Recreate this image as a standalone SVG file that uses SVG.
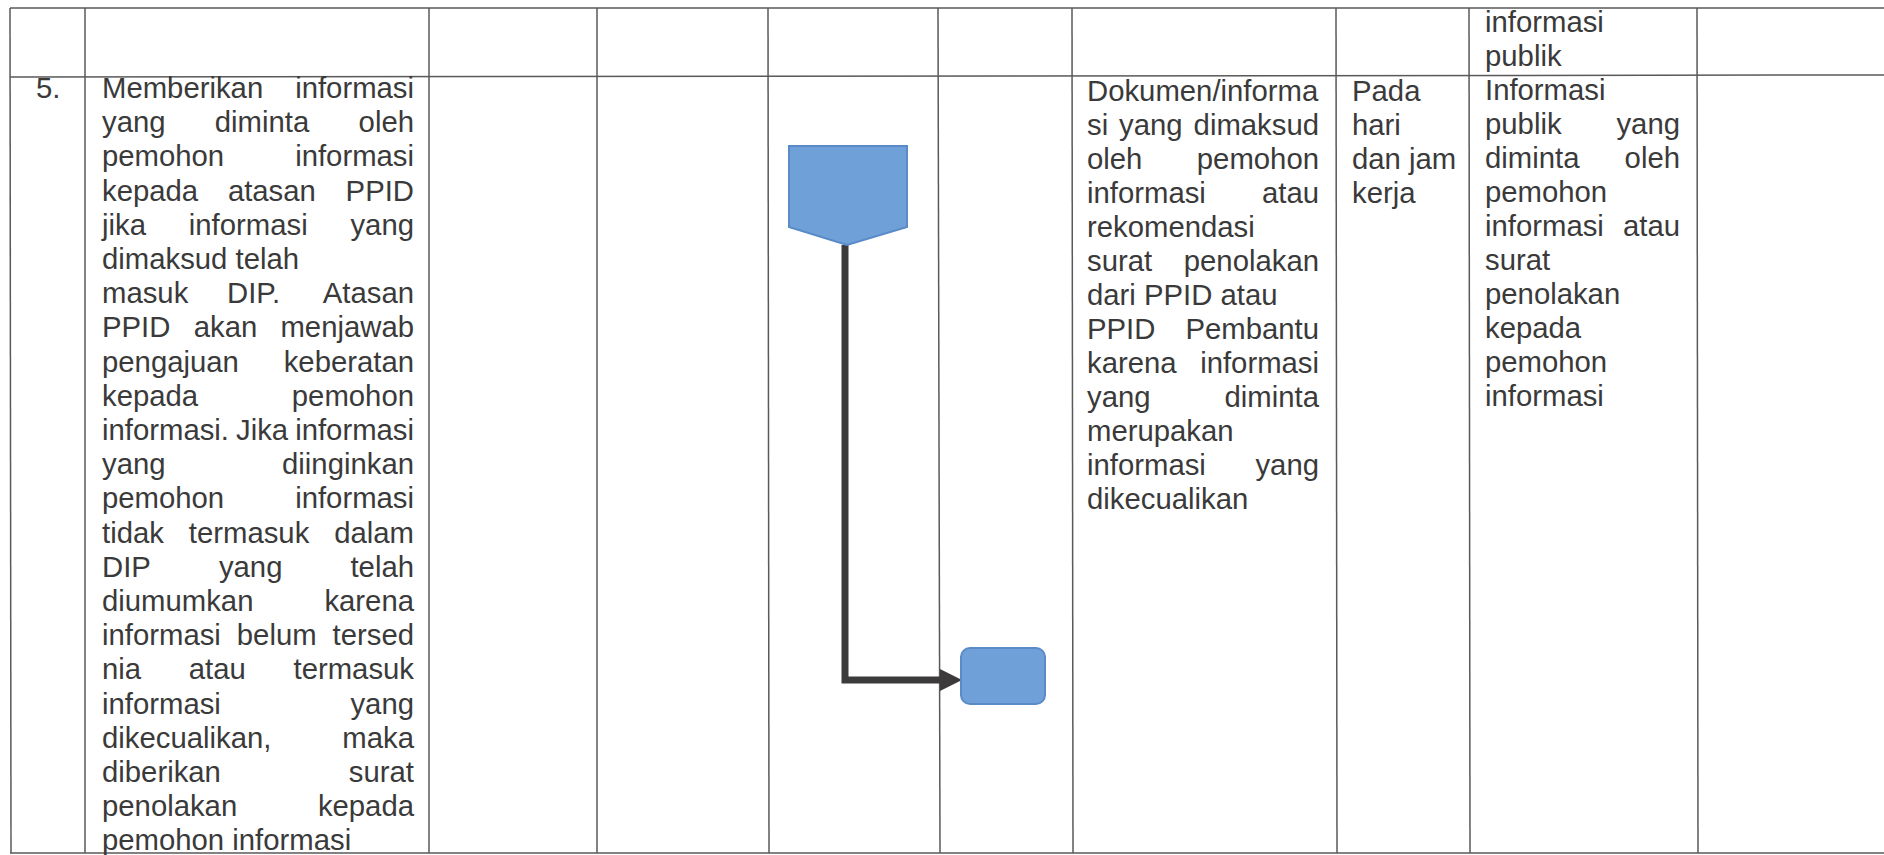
<svg xmlns="http://www.w3.org/2000/svg" width="1884" height="855" viewBox="0 0 1884 855">
<defs>
<style>
.grid{stroke:#595959;stroke-width:1.5;fill:none}
.t{font-family:"Liberation Sans",Arial,sans-serif;font-size:29.3px;fill:#3a3a3a}
.e{text-anchor:end}
.shape{fill:#6fa0d8;stroke:#5a8bc8;stroke-width:2}
.conn{stroke:#3d3a3c;stroke-width:7;fill:none;stroke-linejoin:miter}
</style>
<marker id="arrow" markerUnits="userSpaceOnUse" markerWidth="24" markerHeight="24" refX="0" refY="11" orient="auto" viewBox="0 0 24 22">
<path d="M0,0 L22,11 L0,22 Z" fill="#3d3a3c"/>
</marker>
</defs>
<rect width="1884" height="855" fill="#ffffff"/>
<g id="table">
<line class="grid" x1="10" y1="8" x2="1884" y2="8"/>
<line class="grid" x1="10" y1="77" x2="1884" y2="75"/>
<line class="grid" x1="10" y1="853" x2="1884" y2="853"/>
<line class="grid" x1="10" y1="8" x2="11" y2="853"/>
<line class="grid" x1="85" y1="8" x2="85" y2="853"/>
<line class="grid" x1="429" y1="8" x2="429" y2="853"/>
<line class="grid" x1="597" y1="8" x2="597" y2="853"/>
<line class="grid" x1="768" y1="8" x2="769" y2="853"/>
<line class="grid" x1="938" y1="8" x2="940" y2="853"/>
<line class="grid" x1="1072" y1="8" x2="1073" y2="853"/>
<line class="grid" x1="1336" y1="8" x2="1337" y2="853"/>
<line class="grid" x1="1469" y1="8" x2="1470" y2="853"/>
<line class="grid" x1="1697" y1="8" x2="1698" y2="853"/>
</g>
<g id="col-no">
<text class="t" x="36" y="98">5.</text>
</g>
<g id="col-kegiatan" class="t">
<text x="102" y="98">Memberikan</text><text class="e" x="414" y="98">informasi</text>
<text x="102" y="132.2">yang</text><text x="214.8" y="132.2">diminta</text><text class="e" x="414" y="132.2">oleh</text>
<text x="102" y="166.4">pemohon</text><text class="e" x="414" y="166.4">informasi</text>
<text x="102" y="200.6">kepada</text><text x="227.9" y="200.6">atasan</text><text class="e" x="414" y="200.6">PPID</text>
<text x="102" y="234.8">jika</text><text x="188.8" y="234.8">informasi</text><text class="e" x="414" y="234.8">yang</text>
<text x="102" y="269">dimaksud telah</text>
<text x="102" y="303.2">masuk</text><text x="227" y="303.2">DIP.</text><text class="e" x="414" y="303.2">Atasan</text>
<text x="102" y="337.4">PPID</text><text x="193.7" y="337.4">akan</text><text class="e" x="414" y="337.4">menjawab</text>
<text x="102" y="371.6">pengajuan</text><text class="e" x="414" y="371.6">keberatan</text>
<text x="102" y="405.8">kepada</text><text class="e" x="414" y="405.8">pemohon</text>
<text x="102" y="440">informasi.</text><text x="236" y="440">Jika</text><text class="e" x="414" y="440">informasi</text>
<text x="102" y="474.2">yang</text><text class="e" x="414" y="474.2">diinginkan</text>
<text x="102" y="508.4">pemohon</text><text class="e" x="414" y="508.4">informasi</text>
<text x="102" y="542.6">tidak</text><text x="188.8" y="542.6">termasuk</text><text class="e" x="414" y="542.6">dalam</text>
<text x="102" y="576.8">DIP</text><text x="218.9" y="576.8">yang</text><text class="e" x="414" y="576.8">telah</text>
<text x="102" y="611">diumumkan</text><text class="e" x="414" y="611">karena</text>
<text x="102" y="645.2">informasi</text><text x="236.8" y="645.2">belum</text><text class="e" x="414" y="645.2">tersed</text>
<text x="102" y="679.4">nia</text><text x="188.8" y="679.4">atau</text><text class="e" x="414" y="679.4">termasuk</text>
<text x="102" y="713.6">informasi</text><text class="e" x="414" y="713.6">yang</text>
<text x="102" y="747.8">dikecualikan,</text><text class="e" x="414" y="747.8">maka</text>
<text x="102" y="782">diberikan</text><text class="e" x="414" y="782">surat</text>
<text x="102" y="816.2">penolakan</text><text class="e" x="414" y="816.2">kepada</text>
<text x="102" y="850.4">pemohon informasi</text>
</g>
<g id="col-dokumen" class="t">
<text x="1087" y="101">Dokumen/informa</text>
<text x="1087" y="135">si</text><text x="1119.1" y="135">yang</text><text class="e" x="1319" y="135">dimaksud</text>
<text x="1087" y="169">oleh</text><text class="e" x="1319" y="169">pemohon</text>
<text x="1087" y="203">informasi</text><text class="e" x="1319" y="203">atau</text>
<text x="1087" y="237">rekomendasi</text>
<text x="1087" y="271">surat</text><text class="e" x="1319" y="271">penolakan</text>
<text x="1087" y="305">dari PPID atau</text>
<text x="1087" y="339">PPID</text><text class="e" x="1319" y="339">Pembantu</text>
<text x="1087" y="373">karena</text><text class="e" x="1319" y="373">informasi</text>
<text x="1087" y="407">yang</text><text class="e" x="1319" y="407">diminta</text>
<text x="1087" y="441">merupakan</text>
<text x="1087" y="475">informasi</text><text class="e" x="1319" y="475">yang</text>
<text x="1087" y="509">dikecualikan</text>
</g>
<g id="col-waktu" class="t">
<text x="1352" y="101">Pada</text>
<text x="1352" y="135">hari</text>
<text x="1352" y="169">dan jam</text>
<text x="1352" y="203">kerja</text>
</g>
<g id="col-output" class="t">
<text x="1485" y="32">informasi</text>
<text x="1485" y="66">publik</text>
<text x="1485" y="100">Informasi</text>
<text x="1485" y="134">publik</text><text class="e" x="1680" y="134">yang</text>
<text x="1485" y="168">diminta</text><text class="e" x="1680" y="168">oleh</text>
<text x="1485" y="202">pemohon</text>
<text x="1485" y="236">informasi</text><text class="e" x="1680" y="236">atau</text>
<text x="1485" y="270">surat</text>
<text x="1485" y="304">penolakan</text>
<text x="1485" y="338">kepada</text>
<text x="1485" y="372">pemohon</text>
<text x="1485" y="406">informasi</text>
</g>
<g id="connectors">
<path class="conn" d="M845,245 L845,680 L940,680" marker-end="url(#arrow)"/>
</g>
<g id="node-offpage">
<polygon class="shape" points="789,146 907,146 907,227 847,245 789,227"/>
</g>
<g id="node-process">
<rect class="shape" x="961" y="648" width="84" height="56" rx="9" ry="9"/>
</g>
</svg>
